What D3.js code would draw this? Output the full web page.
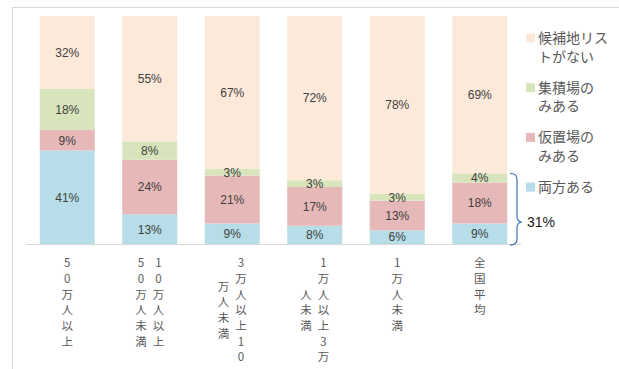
<!DOCTYPE html>
<html>
<head>
<meta charset="utf-8">
<script src="https://cdn.jsdelivr.net/npm/d3@7"></script>
<style>
  html, body { margin: 0; padding: 0; background: #fff; }
  svg { display: block; }
</style>
</head>
<body>
<svg id="chart" width="619" height="369"></svg>
<script>
// Categories (municipality population size); "\n" separates the stacked text columns
const categories = ["50万人以上", "10万人以上\n50万人未満", "3万人以上10\n万人未満", "1万人以上3万\n人未満", "1万人未満", "全国平均"];
const seriesKeys = ["both", "temp", "coll", "none"];
const seriesNames = ["両方ある", "仮置場の\nみある", "集積場の\nみある", "候補地リス\nトがない"];
const seriesColors = ["#B7DEE8", "#E6B8B7", "#D8E4BC", "#FDE9D9"];

// Shares (%) per category, bottom to top
const bothValues = [41, 13, 9, 8, 6, 9];
const tempValues = [9, 24, 21, 17, 13, 18];
const collValues = [18, 8, 3, 3, 3, 4];
const noneValues = [32, 55, 67, 72, 78, 69];
const bracketLabel = "31%";

const rows = categories.map((c, i) => ({
  cat: c,
  both: bothValues[i] / 100,
  temp: tempValues[i] / 100,
  coll: collValues[i] / 100,
  none: noneValues[i] / 100
}));

const svg = d3.select("#chart");

// chart frame
svg.append("path")
  .attr("d", "M12.5,369 V7.5 H619")
  .attr("fill", "none")
  .attr("stroke", "#D9D9D9")
  .attr("stroke-width", 1);

const x = d3.scaleBand()
  .domain(categories)
  .range([26, 521])
  .paddingInner(1 / 3)
  .paddingOuter(1 / 6);

const y = d3.scaleLinear().domain([0, 1]).range([244, 16]);

const stacked = d3.stack().keys(seriesKeys)(rows);

const layers = svg.append("g").selectAll("g")
  .data(stacked)
  .join("g")
  .attr("fill", (d, i) => seriesColors[i]);

layers.selectAll("rect")
  .data(d => d)
  .join("rect")
  .attr("x", d => x(d.data.cat))
  .attr("y", d => y(d[1]))
  .attr("width", x.bandwidth())
  .attr("height", d => y(d[0]) - y(d[1]));

// value labels centered in each segment
const labelG = svg.append("g")
  .attr("font-family", "'Liberation Sans', Arial, sans-serif")
  .attr("font-size", 12)
  .attr("fill", "#404040")
  .attr("text-anchor", "middle");

stacked.forEach(layer => {
  layer.forEach(d => {
    labelG.append("text")
      .attr("x", x(d.data.cat) + x.bandwidth() / 2)
      .attr("y", (y(d[0]) + y(d[1])) / 2)
      .attr("dy", "0.36em")
      .text(Math.round((d[1] - d[0]) * 100) + "%");
  });
});

// category axis
const axis = svg.append("g")
  .attr("transform", `translate(0,${y(0)})`)
  .call(d3.axisBottom(x).tickSize(0).tickFormat(""));
axis.select(".domain").attr("stroke", "#D9D9D9").attr("d", "M26,0.5H521");

// stacked vertical tick labels: first column on the right
const pitch = 15.7, colGap = 17.5, firstY = 19;
axis.selectAll(".tick").each(function (cat) {
  const cols = cat.split("\n");
  const maxLen = d3.max(cols, c => [...c].length);
  const g = d3.select(this);
  cols.forEach((col, j) => {
    const chars = [...col];
    const cx = (cols.length - 1) / 2 * colGap - j * colGap;
    const start = firstY + (maxLen - chars.length) / 2 * pitch;
    chars.forEach((ch, k) => {
      g.append("text")
        .attr("x", cx)
        .attr("y", start + k * pitch)
        .attr("dy", "0.36em")
        .attr("text-anchor", "middle")
        .attr("font-family", "'Noto Sans CJK JP', sans-serif")
        .attr("font-size", 11.5)
        .attr("fill", "#595959")
        .text(ch);
    });
  });
});

// legend, top series first
const legend = svg.append("g")
  .attr("font-family", "'Noto Sans CJK JP', sans-serif")
  .attr("font-size", 14)
  .attr("fill", "#595959");
const legendOrder = [3, 2, 1, 0];
legendOrder.forEach((si, i) => {
  const cy = 38 + i * 49.7;
  legend.append("rect")
    .attr("x", 526).attr("y", cy - 4.5)
    .attr("width", 9).attr("height", 9)
    .attr("fill", seriesColors[si]);
  seriesNames[si].split("\n").forEach((line, k) => {
    legend.append("text")
      .attr("x", 538)
      .attr("y", cy + k * 18.5)
      .attr("dy", "0.36em")
      .text(line);
  });
});

// brace spanning the national average's "any site" share
const avg = rows[rows.length - 1];
const yb = y(0) + 1, yt = y(avg.both + avg.temp + avg.coll);
const tip = yb - (yb - yt) * 0.32;
const bx0 = 510, bx1 = 517, bx2 = 522, r = 6;
svg.append("path")
  .attr("d", `M${bx0},${yt} Q${bx1},${yt} ${bx1},${yt + r} L${bx1},${tip - r} Q${bx1},${tip} ${bx2},${tip}` +
             ` Q${bx1},${tip} ${bx1},${tip + r} L${bx1},${yb - r} Q${bx1},${yb} ${bx0},${yb}`)
  .attr("fill", "none")
  .attr("stroke", "#4A7EBB")
  .attr("stroke-width", 1.3);

svg.append("text")
  .attr("x", 527)
  .attr("y", tip)
  .attr("dy", "0.36em")
  .attr("font-family", "'Liberation Sans', Arial, sans-serif")
  .attr("font-size", 14)
  .attr("fill", "#1a1a1a")
  .text(bracketLabel);
</script>
</body>
</html>
